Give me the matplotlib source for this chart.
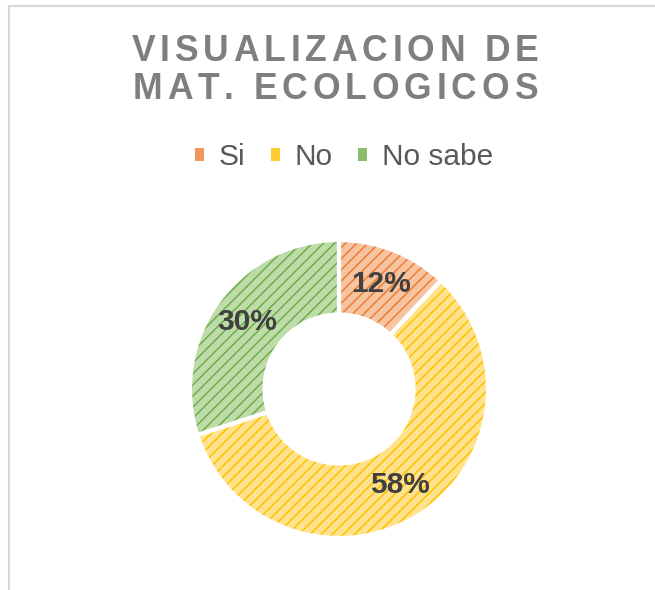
import matplotlib.pyplot as plt
from matplotlib.patches import Patch
from matplotlib.lines import Line2D
from matplotlib.font_manager import FontProperties

# data
labels = ['Si', 'No', 'No sabe']
values = [12, 58, 30]
line_colors = ['#ED7D31', '#FFC000', '#70AD47']
fill_colors = ['#F7C4A2', '#FFE38C', '#BEDCAA']
title_lines = ['VISUALIZACION DE', 'MAT. ECOLOGICOS']

plt.rcParams['font.family'] = ['Liberation Sans', 'DejaVu Sans']
plt.rcParams['hatch.linewidth'] = 1.1

W, H = 655, 590
fig = plt.figure(figsize=(W / 100, H / 100), dpi=100)
renderer = fig.canvas.get_renderer()


def spaced_title(text, cx, baseline, size, spacing):
    # draw text char by char to get the wide letter spacing
    fp = FontProperties(family='Liberation Sans', weight='bold', size=size)
    bar = renderer.get_text_width_height_descent('||', fp, ismath=False)[0]
    adv = [renderer.get_text_width_height_descent('|' + c + '|', fp, ismath=False)[0] - bar
           for c in text]
    total = sum(adv) + spacing * (len(text) - 1)
    x = cx - total / 2
    for c, a in zip(text, adv):
        fig.text(x / W, 1 - baseline / H, c, fontproperties=fp, color='#7F7F7F',
                 ha='left', va='baseline')
        x += a + spacing


spaced_title(title_lines[0], 335, 61, 25.6, 4.8)
spaced_title(title_lines[1], 335, 99, 25.6, 4.8)

# donut
ax = fig.add_axes([(339 - 149) / W, (H - 389 - 149) / H, 298 / W, 298 / H])
wedges, texts, autotexts = ax.pie(values, colors=fill_colors, startangle=90, counterclock=False,
                                  wedgeprops=dict(width=0.5, linewidth=0, hatch='///'),
                                  autopct='%.0f%%', pctdistance=0.76,
                                  textprops=dict(fontsize=21.5, fontweight='bold', color='#404040'))
for w, c in zip(wedges, line_colors):
    w.set_edgecolor(c)
    w.set_linewidth(0)
# white gaps between slices
ax.pie(values, startangle=90, counterclock=False, colors=['none'] * 3,
       wedgeprops=dict(width=0.5, edgecolor='white', linewidth=3, fill=False))
ax.set_xlim(-1, 1)
ax.set_ylim(-1, 1)

# legend
handles = [Patch(facecolor=c, linewidth=0, alpha=0.8) for c in line_colors]
fig.legend(handles, labels, loc='center', bbox_to_anchor=(344 / W, 1 - 157 / H), ncol=3,
           frameon=False, fontsize=21.5, handlelength=0.3, handleheight=0.3,
           handletextpad=0.5, columnspacing=0.85, labelcolor='#595959')

# chart frame (only top and left edges visible)
fig.add_artist(Line2D([9 / W, 1], [1 - 6 / H, 1 - 6 / H], transform=fig.transFigure,
                      color='#D9D9D9', lw=1.5))
fig.add_artist(Line2D([9 / W, 9 / W], [0, 1 - 6 / H], transform=fig.transFigure,
                      color='#D9D9D9', lw=1.5))

fig.savefig('out.png', dpi=100)
